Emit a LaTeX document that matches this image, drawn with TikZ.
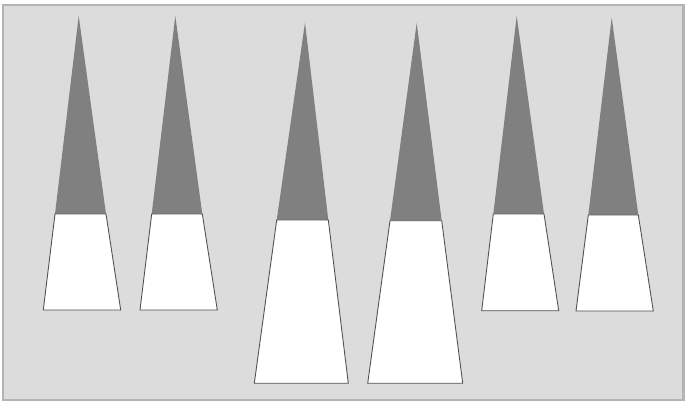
\documentclass[tikz,border=0pt]{standalone}
\usepackage{xcolor}
\usepackage{tikz}

\definecolor{panelgray}{HTML}{DCDCDC}
\definecolor{framegray}{HTML}{B4B4B4}
\definecolor{tipgray}{HTML}{808080}
\definecolor{edgegray}{HTML}{505050}

\begin{document}
\begin{tikzpicture}[x=0.02cm, y=-0.02cm]
        \tikzstyle{panel} = [fill=panelgray, draw=framegray, line width=1.2pt]
        \tikzstyle{tip} = [fill=tipgray]
        \tikzstyle{base} = [fill=white, draw=edgegray, line width=0.5pt, line join=miter]

        \useasboundingbox (0,0) rectangle (685,401);
        \draw [panel] (3,5) rectangle (683.5,400);

        % short cones, left pair
        \fill [tip] (78.7,16) -- (55,214) -- (106,214) -- cycle;
        \draw [base] (55,214) -- (106,214) -- (120.7,310) -- (43.3,310) -- cycle;
        \fill [tip] (175.3,16) -- (151.7,214) -- (202.3,214) -- cycle;
        \draw [base] (151.7,214) -- (202.3,214) -- (217.3,310) -- (140,310) -- cycle;

        % tall cones, middle pair
        \fill [tip] (305,22.7) -- (276.7,220) -- (328.3,220) -- cycle;
        \draw [base] (276.7,220) -- (328.3,220) -- (348.3,383.3) -- (254.3,383.3) -- cycle;
        \fill [tip] (416.7,23) -- (390,220.7) -- (441.7,220.7) -- cycle;
        \draw [base] (390,220.7) -- (441.7,220.7) -- (462.7,383.3) -- (367.7,383.3) -- cycle;

        % short cones, right pair
        \fill [tip] (516.7,16) -- (493.3,214) -- (544,214) -- cycle;
        \draw [base] (493.3,214) -- (544,214) -- (558.7,310.7) -- (481.7,310.7) -- cycle;
        \fill [tip] (611.7,17.5) -- (588.3,215) -- (638.3,215) -- cycle;
        \draw [base] (588.3,215) -- (638.3,215) -- (653.3,311) -- (576,311) -- cycle;
    \end{tikzpicture}
\end{document}
